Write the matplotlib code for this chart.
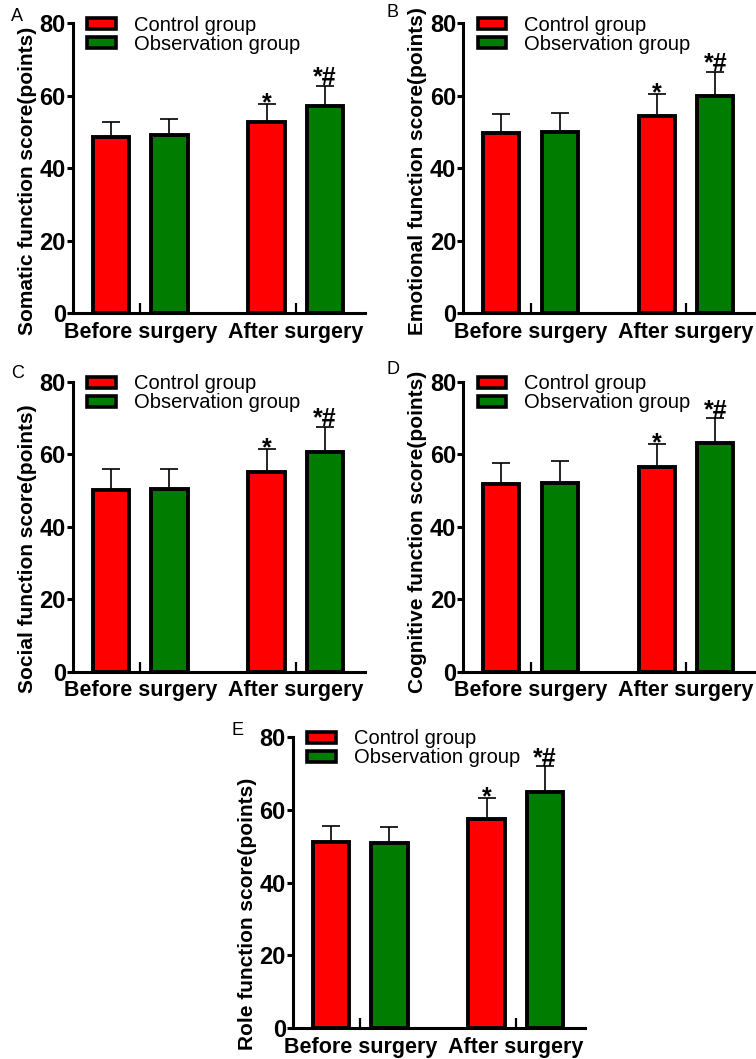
import matplotlib
matplotlib.use("Agg")
import matplotlib.pyplot as plt
import numpy as np

plt.rcParams['font.family'] = ['Liberation Sans', 'DejaVu Sans']

groups = ["Before surgery", "After surgery"]
series = ["Control group", "Observation group"]

# mean and upper error (SD) per panel
somatic_ctrl = [48.7, 52.9]
somatic_ctrl_sd = [4.2, 4.8]
somatic_obs = [49.2, 57.2]
somatic_obs_sd = [4.3, 5.5]

emotional_ctrl = [49.8, 54.4]
emotional_ctrl_sd = [5.1, 6.1]
emotional_obs = [49.9, 59.9]
emotional_obs_sd = [5.4, 6.8]

social_ctrl = [50.1, 55.2]
social_ctrl_sd = [5.7, 6.1]
social_obs = [50.3, 60.7]
social_obs_sd = [5.7, 6.9]

cognitive_ctrl = [51.8, 56.6]
cognitive_ctrl_sd = [5.7, 6.1]
cognitive_obs = [52.1, 63.2]
cognitive_obs_sd = [6.1, 6.7]

role_ctrl = [51.0, 57.3]
role_ctrl_sd = [4.5, 5.8]
role_obs = [50.9, 64.7]
role_obs_sd = [4.3, 7.2]

RED = "#ff0000"
GREEN = "#007c00"

W, H = 756, 1059
fig = plt.figure(figsize=(W / 100, H / 100), dpi=100)


def ax_at(left, top, width, height):
    # pixel box -> figure fraction
    return fig.add_axes([left / W, 1 - (top + height) / H, width / W, height / H])


def panel(ax, letter, ylabel, ctrl, ctrl_sd, obs, obs_sd, lx, ly):
    x = np.arange(len(groups))
    off, bw = 0.188, 0.232
    for vals, sd, col, sign in [(ctrl, ctrl_sd, RED, -1), (obs, obs_sd, GREEN, 1)]:
        ax.bar(x + sign * off, vals, bw, color=col, edgecolor="black", linewidth=2.8, zorder=3)
        ax.errorbar(x + sign * off, vals, yerr=[np.zeros(len(sd)), sd], fmt="none",
                    ecolor="black", elinewidth=1.2, capsize=6.5, capthick=1.2, zorder=2)
    # significance marks after surgery
    ax.annotate("*", (x[1] - off, ctrl[1] + ctrl_sd[1]), xytext=(0, -4.5), textcoords="offset points",
                ha="center", va="baseline", fontsize=18, fontweight="bold")
    ax.annotate("*#", (x[1] + off, obs[1] + obs_sd[1]), xytext=(0, 0.5), textcoords="offset points",
                ha="center", va="baseline", fontsize=18, fontweight="bold")

    ax.set_xlim(-0.434, 1.445)
    ax.set_ylim(0, 80)
    ax.set_yticks([0, 20, 40, 60, 80])
    ax.set_xticks(x)
    ax.set_xticklabels(groups)
    ax.spines["top"].set_visible(False)
    ax.spines["right"].set_visible(False)
    ax.spines["left"].set_linewidth(2.2)
    ax.spines["bottom"].set_linewidth(2.2)
    ax.tick_params(axis="y", direction="out", length=4, width=2.2, pad=1, labelsize=17)
    ax.tick_params(axis="x", direction="in", length=7, width=1.6, pad=6, labelsize=15.5)
    for lab in ax.get_xticklabels() + ax.get_yticklabels():
        lab.set_fontweight("bold")
    # label starts a little below the x axis, like the original
    ax.set_ylabel(ylabel, fontsize=15, fontweight="bold", ha="left")
    ax.yaxis.set_label_coords(-0.122, -0.075)

    ax.legend([plt.Rectangle((0, 0), 1, 1, facecolor=RED, edgecolor="black", linewidth=2.6),
               plt.Rectangle((0, 0), 1, 1, facecolor=GREEN, edgecolor="black", linewidth=2.6)],
              series, loc="upper left", bbox_to_anchor=(0.05, 1.025), frameon=False,
              fontsize=14.5, handlelength=1.4, handleheight=0.45, handletextpad=0.9,
              labelspacing=0.0, borderpad=0, borderaxespad=0)
    fig.text(lx / W, 1 - ly / H, letter, fontsize=13, ha="left", va="top")


axA = ax_at(72.7, 23.3, 292.3, 290)
panel(axA, "A", "Somatic function score(points)", somatic_ctrl, somatic_ctrl_sd,
      somatic_obs, somatic_obs_sd, 11, 8)
axB = ax_at(463, 23.3, 292.3, 290)
panel(axB, "B", "Emotional function score(points)", emotional_ctrl, emotional_ctrl_sd,
      emotional_obs, emotional_obs_sd, 387, 4)
axC = ax_at(72.7, 381.7, 292.3, 290)
panel(axC, "C", "Social function score(points)", social_ctrl, social_ctrl_sd,
      social_obs, social_obs_sd, 11, 365)
axD = ax_at(463, 381.7, 292.3, 290)
panel(axD, "D", "Cognitive function score(points)", cognitive_ctrl, cognitive_ctrl_sd,
      cognitive_obs, cognitive_obs_sd, 387, 361)
axE = ax_at(292.7, 736.7, 292.3, 291.6)
panel(axE, "E", "Role function score(points)", role_ctrl, role_ctrl_sd,
      role_obs, role_obs_sd, 231, 722)

fig.savefig("out.png", dpi=100)
